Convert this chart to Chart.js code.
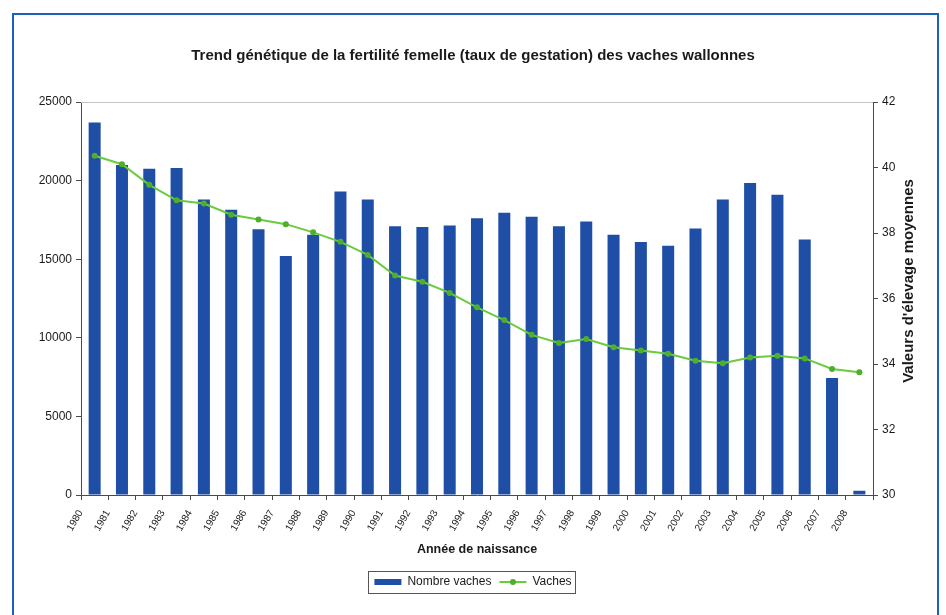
<!DOCTYPE html>
<html lang="fr">
<head>
<meta charset="UTF-8">
<title>Trend génétique de la fertilité femelle</title>
<style>
    html, body {
        margin: 0;
        padding: 0;
        background: #fff;
        overflow: hidden;
    }

    #frame {
        position: absolute;
        left: 12px;
        top: 13px;
        width: 927px;
        height: 700px;
        border: 2px solid #1b63b7;
        box-sizing: border-box;
    }

    #wrap {
        position: absolute;
        left: 0;
        top: 0;
        width: 946px;
        height: 615px;
    }
</style>
<script src="https://cdn.jsdelivr.net/npm/chart.js"></script>
</head>
<body>
<div id="frame"></div>
<div id="wrap"><canvas id="chart" width="946" height="615"></canvas></div>

<script>
    // années de naissance
    const years = ['1980', '1981', '1982', '1983', '1984', '1985', '1986', '1987', '1988', '1989',
        '1990', '1991', '1992', '1993', '1994', '1995', '1996', '1997', '1998', '1999',
        '2000', '2001', '2002', '2003', '2004', '2005', '2006', '2007', '2008'];

    // nombre de vaches (axe gauche)
    const nombreVaches = [23700, 21000, 20750, 20800, 18800, 18150, 16900, 15200, 16550, 19300,
        18800, 17100, 17050, 17150, 17600, 17950, 17700, 17100, 17400, 16550,
        16100, 15850, 16950, 18800, 19850, 19100, 16250, 7450, 270];

    // valeurs d'élevage moyennes (axe droit)
    const vaches = [40.36, 40.1, 39.47, 39.0, 38.9, 38.56, 38.41, 38.27, 38.02, 37.73,
        37.33, 36.7, 36.51, 36.17, 35.73, 35.34, 34.89, 34.64, 34.76, 34.51,
        34.41, 34.31, 34.1, 34.02, 34.2, 34.25, 34.17, 33.85, 33.75];

    const leftTicks = [0, 5000, 10000, 15000, 20000, 25000];
    const rightTicks = [30, 32, 34, 36, 38, 40, 42];

    const FONT = '"Liberation Sans", Arial, sans-serif';
    const BLUE = '#1f4ea6';
    const GREEN = '#6acb3c';
    const AXIS = '#4a4a4a';
    const TEXT = '#1a1a1a';

    // ligne grise en haut de la zone de tracé
    const plotFrame = {
        id: 'plotFrame',
        beforeDatasetsDraw(chart) {
            const { ctx, chartArea: a } = chart;
            ctx.save();
            ctx.strokeStyle = '#c4c4c4';
            ctx.lineWidth = 1;
            ctx.beginPath();
            ctx.moveTo(a.left, Math.round(a.top) + 0.5);
            ctx.lineTo(a.right, Math.round(a.top) + 0.5);
            ctx.stroke();
            ctx.restore();
        }
    };

    // titre de l'axe droit, lu de bas en haut
    const rightTitle = {
        id: 'rightTitle',
        afterDraw(chart) {
            const ctx = chart.ctx;
            ctx.save();
            ctx.translate(909, 281);
            ctx.rotate(-Math.PI / 2);
            ctx.font = 'bold 15px ' + FONT;
            ctx.fillStyle = TEXT;
            ctx.textAlign = 'center';
            ctx.textBaseline = 'middle';
            ctx.fillText("Valeurs d'élevage moyennes", 0, 0);
            ctx.restore();
        }
    };

    // cadre autour de la légende + marqueur sur la ligne
    const legendBox = {
        id: 'legendBox',
        afterDraw(chart) {
            const lg = chart.legend;
            const hb = lg.legendHitBoxes;
            if (!hb || !hb.length) return;
            const ctx = chart.ctx;
            let l = Infinity, r = -Infinity, t = Infinity, b = -Infinity;
            hb.forEach(h => {
                l = Math.min(l, h.left);
                r = Math.max(r, h.left + h.width);
                t = Math.min(t, h.top);
                b = Math.max(b, h.top + h.height);
            });
            ctx.save();
            ctx.strokeStyle = '#555';
            ctx.lineWidth = 1;
            ctx.strokeRect(Math.round(l - 6) + 0.5, Math.round(t - 5) + 0.5, Math.round(r - l + 10), Math.round(b - t + 10));
            const h = hb[1];
            ctx.fillStyle = '#4fae2a';
            ctx.beginPath();
            ctx.arc(h.left + 13.5, h.top + h.height / 2, 3, 0, Math.PI * 2);
            ctx.fill();
            ctx.restore();
        }
    };

    new Chart(document.getElementById('chart'), {
        type: 'bar',
        data: {
            labels: years,
            datasets: [{
                type: 'bar',
                label: 'Nombre vaches',
                data: nombreVaches,
                backgroundColor: BLUE,
                borderWidth: 0,
                barPercentage: 0.44,
                categoryPercentage: 1,
                yAxisID: 'y',
                order: 2
            }, {
                type: 'line',
                label: 'Vaches',
                data: vaches,
                borderColor: GREEN,
                borderWidth: 2,
                pointRadius: 3,
                pointBackgroundColor: '#4fae2a',
                pointBorderWidth: 0,
                tension: 0,
                yAxisID: 'y1',
                order: 1
            }]
        },
        options: {
            responsive: false,
            animation: false,
            layout: { padding: { top: 0, left: 0, right: 0, bottom: 17 } },
            plugins: {
                tooltip: { enabled: false },
                title: {
                    display: true,
                    text: 'Trend génétique de la fertilité femelle (taux de gestation) des vaches wallonnes',
                    color: TEXT,
                    font: { family: FONT, size: 15, weight: 'bold' },
                    padding: { top: 47, bottom: 37 }
                },
                legend: {
                    position: 'bottom',
                    labels: {
                        usePointStyle: true,
                        pointStyleWidth: 27,
                        boxHeight: 6,
                        padding: 8,
                        color: TEXT,
                        font: { family: FONT, size: 12 },
                        generateLabels(chart) {
                            const items = Chart.defaults.plugins.legend.labels.generateLabels(chart);
                            items.sort((a, b) => a.datasetIndex - b.datasetIndex);
                            items[0].pointStyle = 'rect';
                            items[0].lineWidth = 0;
                            items[1].pointStyle = 'line';
                            items[1].strokeStyle = GREEN;
                            items[1].lineWidth = 2;
                            return items;
                        }
                    }
                }
            },
            scales: {
                x: {
                    grid: { drawOnChartArea: false, tickLength: 5, color: AXIS, offset: true },
                    border: { color: AXIS },
                    ticks: {
                        autoSkip: false,
                        minRotation: 60,
                        maxRotation: 60,
                        labelOffset: -14,
                        padding: 8,
                        color: TEXT,
                        font: { family: FONT, size: 10 }
                    },
                    title: {
                        display: true,
                        text: 'Année de naissance',
                        color: TEXT,
                        font: { family: FONT, size: 12.5, weight: 'bold' },
                        padding: { top: 0, bottom: 11 }
                    },
                    afterFit(s) { s.height = 73; }
                },
                y: {
                    position: 'left',
                    min: leftTicks[0],
                    max: leftTicks[leftTicks.length - 1],
                    afterBuildTicks(s) { s.ticks = leftTicks.map(v => ({ value: v })); },
                    grid: { drawOnChartArea: false, tickLength: 5, color: AXIS },
                    border: { color: AXIS },
                    ticks: {
                        padding: 4,
                        color: TEXT,
                        font: { family: FONT, size: 12 },
                        callback: v => String(v)
                    },
                    afterFit(s) { s.width = 81; }
                },
                y1: {
                    position: 'right',
                    min: rightTicks[0],
                    max: rightTicks[rightTicks.length - 1],
                    afterBuildTicks(s) { s.ticks = rightTicks.map(v => ({ value: v })); },
                    grid: { drawOnChartArea: false, tickLength: 5, color: AXIS },
                    border: { color: AXIS },
                    ticks: {
                        padding: 4,
                        color: TEXT,
                        font: { family: FONT, size: 12 },
                        callback: v => String(v)
                    },
                    afterFit(s) { s.width = 73; }
                }
            }
        },
        plugins: [plotFrame, rightTitle, legendBox]
    });
</script>
</body>
</html>
